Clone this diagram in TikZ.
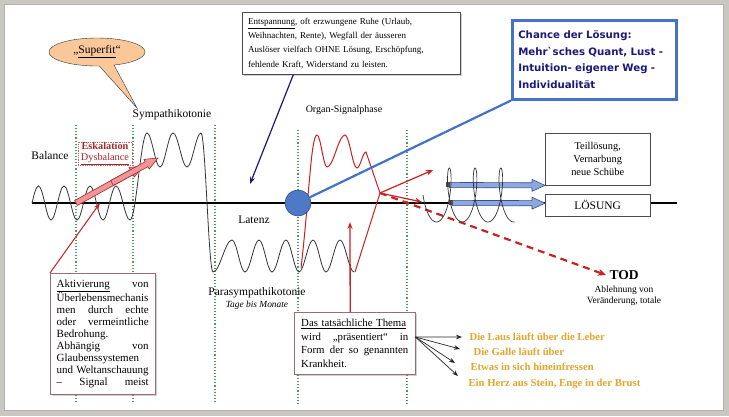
\documentclass[tikz,border=0pt]{standalone}
\usepackage{fontspec}
\setmainfont{Liberation Serif}
\newfontfamily\chancefont{DejaVu Sans}
\usetikzlibrary{arrows.meta,calc,shapes.callouts,shapes.geometric,shadows}
\definecolor{framegray}{RGB}{200,200,192}
\definecolor{dotgreen}{RGB}{80,150,100}
\definecolor{redline}{RGB}{200,35,35}
\definecolor{darkred}{RGB}{165,40,45}
\definecolor{bluel}{RGB}{68,114,196}
\definecolor{navyc}{RGB}{25,25,125}
\definecolor{pinkfill}{RGB}{240,150,150}
\definecolor{lightblue}{RGB}{142,168,220}
\definecolor{arrowblue}{RGB}{50,80,150}
\definecolor{orangetxt}{RGB}{228,165,45}
\definecolor{calloutfill}{RGB}{250,200,152}
\definecolor{boxborder}{RGB}{150,110,115}
\newcommand{\jline}[2]{\noindent\hbox to #1{#2}\par}
\newcommand{\lline}[1]{\noindent #1\par}
\newcommand{\fatarrow}[6]{%
  \coordinate (fa-h) at ($(#2)!13pt!(#1)$);
  \filldraw[fill=#3, draw=#4, line width=0.6, line join=round]
    ($(#1)!#5!90:(#2)$) -- ($(fa-h)!#5!90:(#2)$) -- ($(fa-h)!#6!90:(#2)$) -- (#2)
    -- ($(fa-h)!#6!-90:(#2)$) -- ($(fa-h)!#5!-90:(#2)$) -- ($(#1)!#5!-90:(#2)$) -- cycle;}
\tikzset{
  boxstyle/.style={draw=boxborder, fill=white, anchor=north west, inner sep=7,
    drop shadow={opacity=0.35, shadow xshift=1.5pt, shadow yshift=-1.5pt}},
  plainbox/.style={draw=black!70, fill=white, anchor=north west},
  wave/.style={black!80, line width=0.8},
  redarrow/.style={redline, line width=1.2, -{Stealth[length=7pt,width=5.5pt]}},
  blackarrow/.style={black!85, line width=0.7, -{Stealth[length=6pt,width=4.5pt]}},
  orangelabel/.style={anchor=west, text=orangetxt, font=\bfseries\fontsize{10.7}{12}\selectfont},
  biglabel/.style={font=\fontsize{11.5}{13}\selectfont},
  vdots/.style={dotgreen, dotted, line width=1.1}
}
\begin{document}
\begin{tikzpicture}[x=1pt,y=-1pt,font=\fontsize{10}{12}\selectfont]
\useasboundingbox (0,0) rectangle (729,416);
\fill[framegray] (0,0) rectangle (729,416);
\fill[white] (4,4) rectangle (723,410);
\draw[black!30, line width=0.6] (4,4) rectangle (723,410);

% dotted phase lines
\foreach \x/\t in {76/125,133/125,215/125,298/130,407/130}
  \draw[vdots] (\x,\t) -- (\x,403);

% baseline
\coordinate (bl0) at (32,203);
\coordinate (bl1) at (677,203);
\draw[line width=1.6] (bl0) -- (bl1);

% black wave
\draw[wave] (32,203) sin (38.5,186)
  cos (44.75,203) sin (51,220) cos (57.5,203) sin (64,186)
  cos (70.5,203) sin (77,220) cos (83.5,203) sin (90,186)
  cos (96.5,203) sin (103,220) cos (109.5,203) sin (116,186)
  cos (123,203) sin (130,220) cos (138.5,176.5) sin (147,133)
  cos (153.5,150) sin (160,167) cos (166.5,150) sin (173,133)
  cos (180,150) sin (187,167) cos (194,150) sin (201,133)
  cos (207,202.5) sin (213,272) cos (222.5,256) sin (232,240)
  cos (238.5,256) sin (245,272) cos (252,256) sin (259,240)
  cos (265.5,256) sin (272,272) cos (279,256) sin (286,240)
  cos (292.5,256) sin (299,272) cos (306,256) sin (313,240)
  cos (319.5,256) sin (326,272) cos (333,256) sin (340,240)
  cos (347,256) sin (354,272);

% red organ-signal wave
\coordinate (rj) at (380,193);
\draw[redline, line width=1] (301,268) .. controls (309,200) and (311,135) .. (317,135)
  cos (322,151) sin (327,167) cos (336,151) sin (345,135)
  cos (351,151.5) sin (357,168) cos (361.5,160) sin (366,152) -- (rj) -- (355,272);

% TOD
\node[font=\bfseries\fontsize{13.5}{15}\selectfont] (tod) at (624,275) {TOD};
\node[font=\fontsize{9.5}{11}\selectfont] (tod1) at (624,290) {Ablehnung von};
\node[font=\fontsize{9.5}{11}\selectfont] (tod2) at (624,301) {Veränderung, totale};
\draw[redline, line width=2.2, dash pattern=on 7pt off 5pt, -{Stealth[length=8pt,width=7pt]}] (rj) -- (tod.west);

% red arrows from junction
\coordinate (ra1) at (433,170);
\coordinate (ra2) at (422,202);
\draw[redarrow] (rj) -- (ra1);
\draw[redarrow] (rj) -- (ra2);

% solution boxes
\node[plainbox, minimum width=105, minimum height=52, align=center,
  font=\fontsize{10.4}{13}\selectfont] (teil) at (545,133) {Teillösung,\\ Vernarbung\\ neue Schübe};
\node[plainbox, minimum width=105, minimum height=22, font=\fontsize{11.5}{13}\selectfont] (loes) at (545,194) {LÖSUNG};

% blue fat arrows
\coordinate (ba1s) at (449,185);
\coordinate (ba2s) at (452,203);
\coordinate (ba1e) at (teil.south west);
\coordinate (ba2e) at ($(loes.west)+(0,-2)$);
\fatarrow{ba1s}{ba1e}{lightblue}{arrowblue}{2.6pt}{6pt}
\fatarrow{ba2s}{ba2e}{lightblue}{arrowblue}{2.6pt}{6pt}
\fill[black!70] (446,182) rectangle (450,187);
\fill[black!70] (449,200) rectangle (453,205);

% coil
\draw[black!80, line width=0.7] plot[domain=0:20.5, samples=240, variable=\t]
  ({430+4.1*\t-7*cos(\t r)}, {195+27*sin(\t r)});

% blue circle and line to chance box
\node[draw=bluel, line width=2.5, fill=white, anchor=north west, minimum width=164,
  minimum height=79, text width=152, inner sep=6, align=left, text=navyc,
  font=\chancefont\bfseries\fontsize{10.2}{16.5}\selectfont] (chance) at (511,19)
  {Chance der Lösung:\\ Mehr\symbol{96}sches Quant, Lust -\\ Intuition- eigener Weg -\\ Individualität};
\node[circle, fill=bluel!95, draw=bluel!70!black, line width=0.6, minimum size=26, inner sep=0] (dot) at (298,203) {};
\draw[bluel, line width=2.2] (dot) -- (chance.south west);

% Entspannung box
\node[boxstyle, draw=black!70, text width=206, inner sep=6, align=left,
  font=\fontsize{9}{14.2}\selectfont] (ent) at (242,12)
  {\underline{Entspannung}, oft erzwungene Ruhe (Urlaub,\\ Weihnachten, Rente), Wegfall der äusseren\\ Auslöser vielfach OHNE Lösung, Erschöpfung,\\ fehlende Kraft, Widerstand zu leisten.};
\coordinate (entend) at (250,184);
\draw[navyc, line width=1.2, -{Stealth[length=7pt,width=5pt]}] ($(ent.south west)!0.235!(ent.south east)$) -- (entend);

% Superfit callout
\node[ellipse callout, draw=black!80, fill=calloutfill, minimum width=96, minimum height=28,
  inner sep=0, callout absolute pointer={(137,108)}, callout pointer arc=18,
  font=\fontsize{11.5}{13}\selectfont] (sfit) at (97,52)
  {„\underline{Superfit}“};

% labels
\node[biglabel] (bal) at (50,156) {Balance};
\node[biglabel] (symp) at (172,115) {Sympathikotonie};
\node[biglabel] (lat) at (254,220) {Latenz};
\node (osp) at (344,110) {Organ-Signalphase};
\node[biglabel] (para) at (257,293) {Parasympathikotonie};
\node[font=\itshape\fontsize{9.4}{11}\selectfont] (tage) at (257,305) {Tage bis Monate};

% Eskalation
\node[draw=darkred!70, densely dotted, line width=0.8, fill=white, minimum width=54, minimum height=22,
  inner sep=0.5, align=center, text=darkred, font=\fontsize{10.3}{11}\selectfont] (esk) at (105,154)
  {\textbf{Eskalation}\\ \underline{Dysbalance}};

% pink escalation arrows
\coordinate (pa1) at (76,203);
\coordinate (pb1) at (143,166);
\coordinate (pa2) at (112,183);
\coordinate (pb2) at (158,158);
\fatarrow{pa1}{pb1}{pinkfill}{darkred}{2.8pt}{5.5pt}
\fatarrow{pa2}{pb2}{pinkfill}{darkred}{2.8pt}{5.5pt}

% Aktivierung box
\node[boxstyle, text width=92, inner sep=6.5, font=\fontsize{11}{12}\selectfont] (akt) at (50,273)
  {\jline{92pt}{\underline{Aktivierung}\hfill von}
   \lline{Überlebensmechanis}
   \jline{92pt}{men\hfill durch\hfill echte}
   \jline{92pt}{oder\hfill vermeintliche}
   \lline{Bedrohung.}
   \jline{92pt}{Abhängig\hfill von}
   \lline{Glaubenssystemen}
   \jline{92pt}{und\hfill Weltanschauung}
   \jline{92pt}{–\hfill Signal\hfill meist}};
\coordinate (aktend) at (100,203);
\draw[redline, line width=1, -{Stealth[length=7pt,width=5pt]}] (akt.north west) -- (aktend);

% Das Thema box
\node[boxstyle, text width=107, font=\fontsize{10.8}{13.5}\selectfont] (das) at (294,312)
  {\jline{107pt}{\underline{Das tatsächliche Thema}}
   \jline{107pt}{wird\hfill „präsentiert“\hfill in}
   \jline{107pt}{Form\hfill der\hfill so\hfill genannten}
   \lline{Krankheit.}};
\coordinate (dasup) at (350,222);
\draw[redline, line width=1.3, -{Stealth[length=7pt,width=5pt]}] ($(das.north west)!0.463!(das.north east)$) -- (dasup);

% orange consequences
\node[orangelabel] (o1) at (466,337) {Die Laus läuft über die Leber};
\node[orangelabel] (o2) at (470,352) {Die Galle läuft über};
\node[orangelabel] (o3) at (467,367) {Etwas in sich hineinfressen};
\node[orangelabel] (o4) at (465,384) {Ein Herz aus Stein, Enge in der Brust};
\coordinate (fan) at ($(das.north east)!0.4!(das.south east)$);
\coordinate (t1) at (462,337);
\coordinate (t2) at (460,349);
\coordinate (t3) at (455,363);
\coordinate (t4) at (458,376);
\foreach \t in {t1,t2,t3,t4} \draw[blackarrow] (fan) -- (\t);
\end{tikzpicture}
\end{document}
